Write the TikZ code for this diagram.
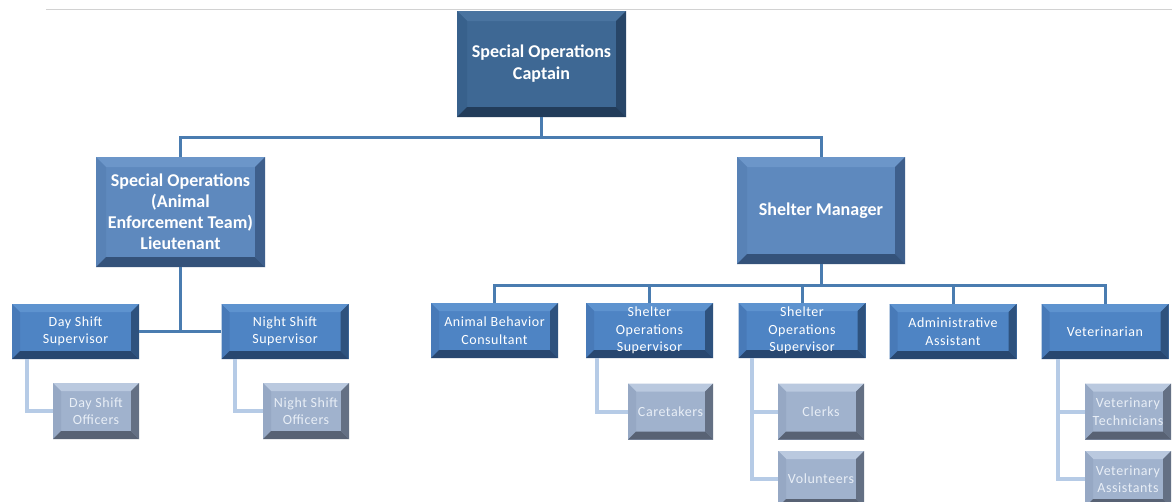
\documentclass[tikz,border=0pt]{standalone}
\usepackage{fontspec}
\setmainfont{Carlito}
\newfontfamily\lfnt[LetterSpace=4]{Carlito}
\definecolor{aF}{RGB}{62,104,148}
\definecolor{aT}{RGB}{74,116,160}
\definecolor{aL}{RGB}{56,97,140}
\definecolor{aR}{RGB}{40,70,104}
\definecolor{aB}{RGB}{34,60,90}
\definecolor{bF}{RGB}{94,137,190}
\definecolor{bT}{RGB}{108,150,201}
\definecolor{bL}{RGB}{88,130,182}
\definecolor{bR}{RGB}{62,95,140}
\definecolor{bB}{RGB}{52,82,122}
\definecolor{cF}{RGB}{78,132,196}
\definecolor{cT}{RGB}{94,147,207}
\definecolor{cL}{RGB}{72,122,184}
\definecolor{cR}{RGB}{46,82,126}
\definecolor{cB}{RGB}{40,71,112}
\definecolor{dF}{RGB}{160,178,205}
\definecolor{dT}{RGB}{186,201,223}
\definecolor{dL}{RGB}{150,168,196}
\definecolor{dR}{RGB}{100,112,132}
\definecolor{dB}{RGB}{88,98,116}
\definecolor{dTxt}{RGB}{232,238,246}
\definecolor{lineD}{RGB}{74,124,176}
\definecolor{lineL}{RGB}{182,203,230}
\definecolor{topLine}{RGB}{210,210,210}
\tikzset{
  bev/.style n args={6}{fill=#1, draw=none, inner sep=0pt, align=center,
    path picture={
      \fill[#2] (path picture bounding box.north west) -- (path picture bounding box.north east)
        -- ([shift={(-#6,-#6)}]path picture bounding box.north east)
        -- ([shift={(#6,-#6)}]path picture bounding box.north west) -- cycle;
      \fill[#3] (path picture bounding box.north west) -- ([shift={(#6,-#6)}]path picture bounding box.north west)
        -- ([shift={(#6,#6)}]path picture bounding box.south west) -- (path picture bounding box.south west) -- cycle;
      \fill[#4] (path picture bounding box.north east) -- ([shift={(-#6,-#6)}]path picture bounding box.north east)
        -- ([shift={(-#6,#6)}]path picture bounding box.south east) -- (path picture bounding box.south east) -- cycle;
      \fill[#5] (path picture bounding box.south west) -- ([shift={(#6,#6)}]path picture bounding box.south west)
        -- ([shift={(-#6,#6)}]path picture bounding box.south east) -- (path picture bounding box.south east) -- cycle;
    }},
  lvA/.style={bev={aF}{aT}{aL}{aR}{aB}{10pt}, text=white, font=\fontsize{18}{22}\selectfont\bfseries},
  lvB/.style={bev={bF}{bT}{bL}{bR}{bB}{10pt}, text=white, font=\fontsize{18}{21}\selectfont\bfseries},
  lvC/.style={bev={cF}{cT}{cL}{cR}{cB}{8pt}, text=white, font=\lfnt\fontsize{14}{17.5}\selectfont,
    minimum width=127pt, minimum height=55pt},
  lvD/.style={bev={dF}{dT}{dL}{dR}{dB}{8pt}, text=dTxt, font=\lfnt\fontsize{14}{17.5}\selectfont,
    minimum width=86pt, minimum height=56pt},
  conn/.style={draw=lineD, line width=3pt},
  lconn/.style={draw=lineL, line width=4pt},
}
\begin{document}
\begin{tikzpicture}[x=1pt,y=-1pt]
\useasboundingbox[fill=white] (0,0) rectangle (1172,501);
\clip (0,0) rectangle (1172,501);
\coordinate (gl) at (46,9);
\coordinate (gr) at (1172,9);
\draw[topLine, line width=1pt] (gl) -- (gr);

\node[lvA, minimum width=169pt, minimum height=106pt] (cap) at (541.5,64) {Special Operations\\Captain};
\node[lvB, minimum width=169pt, minimum height=110pt] (lt) at (180.5,212) {Special Operations\\(Animal\\Enforcement Team)\\Lieutenant};
\node[lvB, minimum width=168pt, minimum height=107pt] (sm) at (821,210.5) {Shelter Manager};

\node[lvC] (ds) at (75.5,331.5) {Day Shift\\Supervisor};
\node[lvC] (ns) at (285,331.5) {Night Shift\\Supervisor};
\node[lvC] (ab) at (494.5,330.5) {Animal Behavior\\Consultant};
\node[lvC] (so1) at (649.5,330.5) {Shelter\\Operations\\Supervisor};
\node[lvC] (so2) at (802,330.5) {Shelter\\Operations\\Supervisor};
\node[lvC] (aa) at (953,331.5) {Administrative\\Assistant};
\node[lvC] (vet) at (1105,331.5) {Veterinarian};

\node[lvD] (dso) at (96,411) {Day Shift\\Officers};
\node[lvD] (nso) at (306,411) {Night Shift\\Officers};
\node[lvD, minimum width=85pt] (ct) at (670.5,411.5) {Caretakers};
\node[lvD] (cl) at (821,411.5) {Clerks};
\node[lvD] (vo) at (821,479) {Volunteers};
\node[lvD] (vt) at (1128,411.5) {Veterinary\\Technicians};
\node[lvD] (va) at (1128,479) {Veterinary\\Assistants};

% top level connectors
\coordinate (capj) at (541.5,137);
\draw[conn] (cap.south) -- (capj);
\draw[conn] (lt.north) |- (capj) -| (sm.north);

% lieutenant
\draw[conn] (ds.east) -| (lt.south);
\draw[conn] (ns.west) -| (lt.south);

% shelter manager
\coordinate (smj) at (821,285.5);
\draw[conn] (sm.south) -- (smj);
\draw[conn] (ab.north) |- (smj) -| (vet.north);
\draw[conn] (so1.north) -- (so1.north |- smj);
\draw[conn] (so2.north) -- (so2.north |- smj);
\draw[conn] (aa.north) -- (aa.north |- smj);

% level 3 to level 4
\draw[lconn] ([xshift=15pt]ds.south west) |- (dso.west);
\draw[lconn] ([xshift=14pt]ns.south west) |- (nso.west);
\draw[lconn] ([xshift=11pt]so1.south west) |- (ct.west);
\draw[lconn] ([xshift=14pt]so2.south west) |- (cl.west);
\draw[lconn] ([xshift=14pt]so2.south west) |- (vo.west);
\draw[lconn] ([xshift=17pt]vet.south west) |- (vt.west);
\draw[lconn] ([xshift=17pt]vet.south west) |- (va.west);
\end{tikzpicture}
\end{document}
